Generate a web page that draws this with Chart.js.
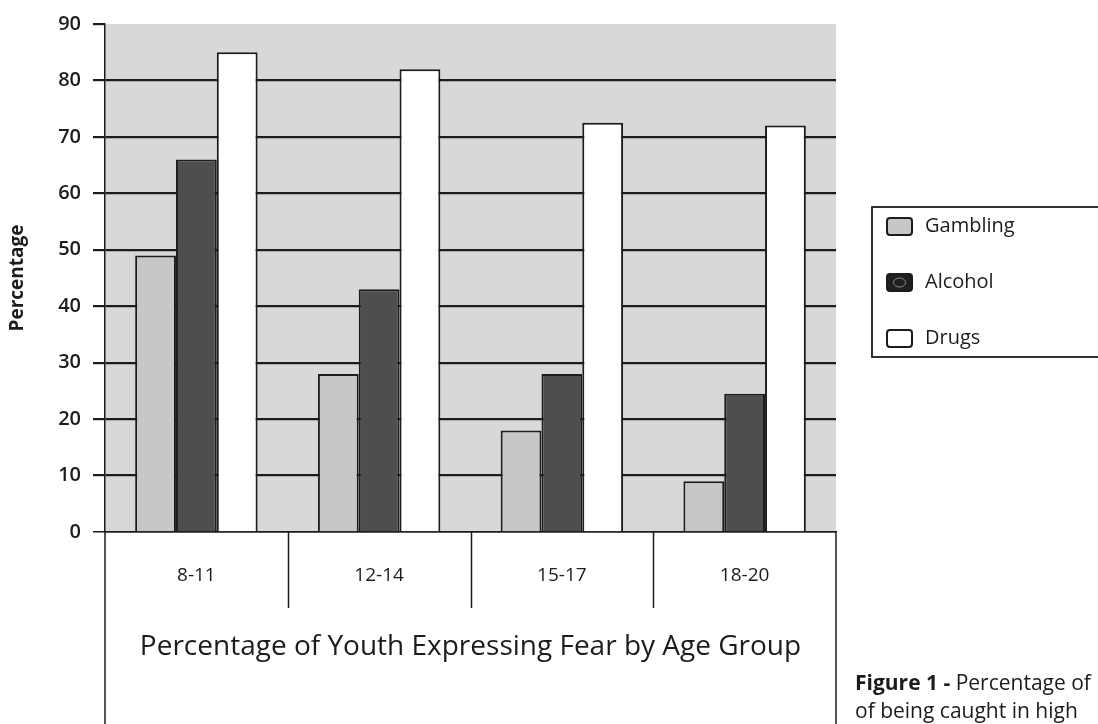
<!DOCTYPE html>
<html>
<head>
<meta charset="utf-8">
<title>Percentage of Youth Expressing Fear by Age Group</title>
<script src="https://cdn.jsdelivr.net/npm/chart.js@4.4.1/dist/chart.umd.min.js"></script>
<style>
  html, body { margin: 0; padding: 0; background: #ffffff; }
  #wrap { width: 1098px; height: 724px; overflow: hidden; }
</style>
</head>
<body>
<div id="wrap"><canvas id="fearChart" width="1098" height="724"></canvas></div>
<script>
const ageGroups = ["8-11", "12-14", "15-17", "18-20"];
const gambling = [49, 28, 18, 9];
const alcohol = [66, 43, 28, 24.5];
const drugs = [85, 82, 72.5, 72];
const yTicks = [0, 10, 20, 30, 40, 50, 60, 70, 80, 90];

const xTitle = "Percentage of Youth Expressing Fear by Age Group";
const yTitle = "Percentage";
const captionBold = "Figure 1 - ";
const captionLines = ["Percentage of", "of being caught in high"];

const FONT = "'Open Sans', 'Noto Sans', sans-serif";
const INK = "#1c1c1c";

// background, box under the axis, legend and caption
const framePlugin = {
  id: "frame",
  beforeDraw(chart) {
    const { ctx, chartArea: a } = chart;
    ctx.save();
    ctx.fillStyle = "#d8d8d8";
    ctx.fillRect(a.left, a.top, a.right - a.left, a.bottom - a.top);
    ctx.restore();
  },
  afterDraw(chart) {
    const { ctx, chartArea: a } = chart;
    const x = chart.scales.x;
    ctx.save();
    ctx.strokeStyle = INK;
    ctx.lineWidth = 1.5;

    // box sides running down to the bottom
    ctx.beginPath();
    ctx.moveTo(a.left, a.bottom);
    ctx.lineTo(a.left, chart.height);
    ctx.moveTo(a.right, a.bottom);
    ctx.lineTo(a.right, chart.height);
    ctx.stroke();

    // separators between the age groups
    ctx.beginPath();
    for (let i = 1; i < ageGroups.length; i++) {
      const px = Math.round(x.getPixelForValue(i - 0.5)) + 0.5;
      ctx.moveTo(px, a.bottom);
      ctx.lineTo(px, a.bottom + 76);
    }
    ctx.stroke();

    // legend
    const lx = 872, ly = 207, lh = 150;
    ctx.lineWidth = 1.8;
    ctx.strokeRect(lx, ly, 240, lh);
    ctx.font = "20px " + FONT;
    ctx.textBaseline = "middle";
    chart.data.datasets.forEach((ds, i) => {
      const cy = ly + 19 + i * 56;
      const sx = 887, sy = cy - 8, sw = 25, sh = 17;
      ctx.lineWidth = 2;
      ctx.strokeStyle = INK;
      ctx.fillStyle = i === 1 ? "#202020" : ds.backgroundColor;
      ctx.beginPath();
      ctx.roundRect(sx, sy, sw, sh, 3);
      ctx.fill();
      ctx.stroke();
      if (i === 1) {
        ctx.strokeStyle = "#8a8a8a";
        ctx.lineWidth = 1;
        ctx.beginPath();
        ctx.ellipse(sx + sw / 2, cy + 0.5, 6, 4.5, 0, 0, Math.PI * 2);
        ctx.stroke();
      }
      ctx.fillStyle = INK;
      ctx.fillText(ds.label, 925, cy);
    });

    // caption (runs off the right edge like the source)
    ctx.textBaseline = "alphabetic";
    ctx.font = "bold 21px " + FONT;
    ctx.fillText(captionBold, 855, 690);
    const bw = ctx.measureText(captionBold).width;
    ctx.font = "21px " + FONT;
    ctx.fillText(captionLines[0], 855 + bw, 690);
    ctx.fillText(captionLines[1], 855, 718);
    ctx.restore();
  }
};

new Chart(document.getElementById("fearChart"), {
  type: "bar",
  data: {
    labels: ageGroups,
    datasets: [
      { label: "Gambling", data: gambling, backgroundColor: "#c7c7c7" },
      { label: "Alcohol", data: alcohol, backgroundColor: "#4e4e4e" },
      { label: "Drugs", data: drugs, backgroundColor: "#ffffff" }
    ].map(d => Object.assign(d, {
      borderColor: INK,
      borderWidth: 2,
      borderSkipped: "bottom",
      categoryPercentage: 0.67,
      barPercentage: 1.0
    }))
  },
  options: {
    responsive: false,
    animation: false,
    devicePixelRatio: 1,
    layout: { padding: { top: 19, right: 262, bottom: 0, left: 0 } },
    plugins: {
      legend: { display: false },
      tooltip: { enabled: false }
    },
    scales: {
      x: {
        afterFit: s => { s.height = 192; },
        grid: { display: false },
        border: { display: true, color: INK, width: 1.5 },
        ticks: {
          color: INK,
          padding: 24,
          font: { family: FONT, size: 19, weight: "500" }
        },
        title: {
          display: true,
          text: xTitle,
          color: INK,
          font: { family: FONT, size: 28 },
          padding: { top: 0, bottom: 60 }
        }
      },
      y: {
        min: 0,
        max: 90,
        afterFit: s => { s.width = 105; },
        afterBuildTicks: s => { s.ticks = yTicks.map(v => ({ value: v })); },
        grid: {
          color: c => (c.tick && c.tick.value === 90 ? "rgba(0,0,0,0)" : INK),
          tickColor: INK,
          lineWidth: c => (c.tick && c.tick.value === 0 ? 1.5 : 2.2),
          tickLength: 12
        },
        border: { display: true, color: INK, width: 1.5 },
        ticks: {
          color: INK,
          padding: 12,
          font: { family: FONT, size: 20, weight: "600" }
        },
        title: {
          display: true,
          text: yTitle,
          color: INK,
          font: { family: FONT, size: 19, weight: "bold" },
          padding: { top: 6, bottom: 0 }
        }
      }
    }
  },
  plugins: [framePlugin]
});
</script>
</body>
</html>
